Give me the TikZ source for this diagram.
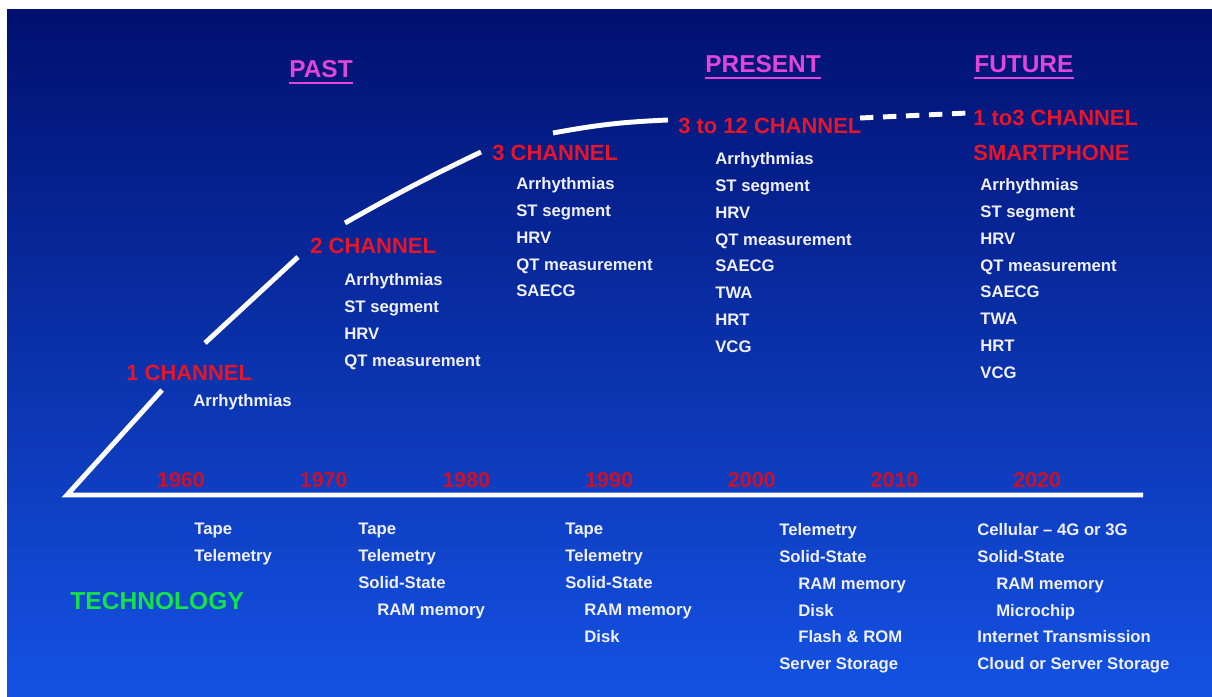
\documentclass[tikz,border=0pt]{standalone}
\usepackage{fontspec}
\setmainfont{Liberation Sans}
\usetikzlibrary{positioning,calc}
\definecolor{navytop}{RGB}{0,16,112}
\definecolor{navymid}{RGB}{6,48,180}
\definecolor{navybot}{RGB}{20,82,228}
\definecolor{chred}{RGB}{232,20,40}
\definecolor{yrred}{RGB}{205,16,40}
\definecolor{hdpink}{RGB}{226,70,216}
\definecolor{techgreen}{RGB}{20,226,70}
\newcommand{\ind}{\hspace*{10.8pt}}

\begin{document}
\begin{tikzpicture}[
 x=0.02cm,y=-0.02cm,
 every node/.style={inner sep=0pt},
 hdr/.style={anchor=base west,text=hdpink,font=\fontsize{13.9}{16}\selectfont\bfseries},
 uline/.style={hdpink,line width=1.5pt},
 chan/.style={anchor=base west,text=chred,font=\fontsize{12.5}{15}\selectfont\bfseries},
 lst/.style={anchor=north west,align=left,text=white!94!blue,font=\fontsize{9.5}{15.3}\selectfont\bfseries},
 yr/.style={anchor=base,text=yrred,font=\fontsize{12.2}{14}\selectfont\bfseries},
 curve/.style={white,line width=2.8pt}
]
\useasboundingbox (0,0) rectangle (1212,696);
\fill[white] (0,0) rectangle (1212,696);
\shade[top color=navytop,middle color=navymid,bottom color=navybot] (7,10) rectangle (1212,696);

% eras
\node[hdr] (past) at (289,77) {PAST};
\node[hdr] (present) at (705,72) {PRESENT};
\node[hdr] (future) at (974,72) {FUTURE};
\foreach \h in {past,present,future}
  \draw[uline] ([yshift=-3.4pt]\h.base west) -- ([yshift=-3.4pt]\h.base east);

% channels
\node[chan] (ch1) at (126,380) {1 CHANNEL};
\node[chan] (ch2) at (310,253) {2 CHANNEL};
\node[chan] (ch3) at (492,160) {3 CHANNEL};
\node[chan] (ch12) at (678,133) {3 to 12 CHANNEL};
\node[chan] (chf) at (973,125) {1 to3 CHANNEL};
\node[chan] (smart) at ([yshift=-20.4pt]chf.base west) {SMARTPHONE};

\node[lst] (l1) at (193,394) {Arrhythmias};
\node[lst] (l2) at (344,273) {Arrhythmias\\ST segment\\HRV\\QT measurement};
\node[lst] (l3) at (516,177) {Arrhythmias\\ST segment\\HRV\\QT measurement\\SAECG};
\node[lst] (l4) at (715,152) {Arrhythmias\\ST segment\\HRV\\QT measurement\\SAECG\\TWA\\HRT\\VCG};
\node[lst] (l5) at (980,178) {Arrhythmias\\ST segment\\HRV\\QT measurement\\SAECG\\TWA\\HRT\\VCG};

% time axis and growth curve
\coordinate (o) at (67,495);
\coordinate (ax) at (1143,495);
\coordinate (s1) at (162,390);
\coordinate (s2a) at (205,343);
\coordinate (s2b) at (298,257);
\coordinate (s3a) at (345,223);
\coordinate (s3b) at (481,152);
\coordinate (s4a) at (553,133);
\coordinate (s4b) at (668,120);
\coordinate (d1) at (860,118);
\coordinate (d2) at (968,113);
\draw[curve] (s1) -- (o) -- (ax);
\draw[curve] (s2a) -- (s2b);
\draw[curve] (s3a) to[bend left=2] (s3b);
\draw[curve] (s4a) to[bend left=4] (s4b);
\draw[curve,dash pattern=on 7.6pt off 5.5pt] (d1) -- (d2);

\foreach \yy [count=\i from 0] in {1960,1970,1980,1990,2000,2010,2020}
  \node[yr] (y\yy) at (181+142.7*\i,487) {\yy};

% technology
\node[anchor=north west,text=techgreen,font=\fontsize{14}{16}\selectfont\bfseries] (tech) at (70,592) {TECHNOLOGY};
\node[lst] (t1) at (194,523) {Tape\\Telemetry};
\node[lst] (t2) at (358,523) {Tape\\Telemetry\\Solid-State\\\ind RAM memory};
\node[lst] (t3) at (565,523) {Tape\\Telemetry\\Solid-State\\\ind RAM memory\\\ind Disk};
\node[lst] (t4) at (779,523) {Telemetry\\Solid-State\\\ind RAM memory\\\ind Disk\\\ind Flash \& ROM\\Server Storage};
\node[lst] (t5) at (977,523) {Cellular – 4G or 3G\\Solid-State\\\ind RAM memory\\\ind Microchip\\Internet Transmission\\Cloud or Server Storage};
\end{tikzpicture}
\end{document}
